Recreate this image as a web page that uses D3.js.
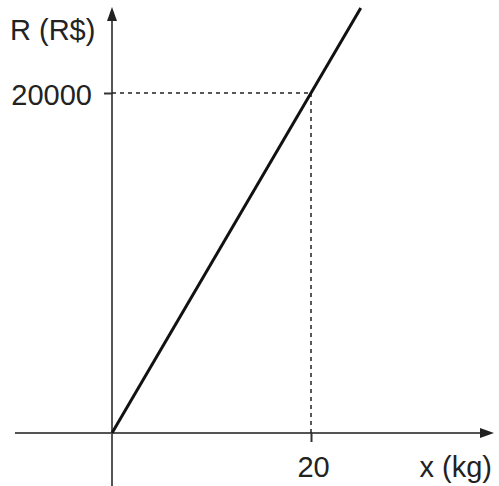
<!DOCTYPE html>
<html><head><meta charset="utf-8">
<script src="https://cdn.jsdelivr.net/npm/d3@7"></script>
<style>
html,body{margin:0;padding:0;background:#fff;}
text{font-family:"Liberation Sans",Arial,Helvetica,sans-serif;fill:#222;}
</style></head>
<body>
<script>
const massKg = [0, 25];
const revenue = [0, 25000];
const xTicks = [20];
const yTicks = [20000];
const xTickLabels = ["20"];
const yTickLabels = ["20000"];
const xTitle = "x (kg)";
const yTitle = "R (R$)";

const W = 499, H = 486;
const svg = d3.select("body").append("svg").attr("width", W).attr("height", H);

const x = d3.scaleLinear().domain([0, 20]).range([112, 311]);
const y = d3.scaleLinear().domain([0, 20000]).range([433, 93]);

const axisColor = "#555";
// axis lines
svg.append("line").attr("x1", 15).attr("x2", 484).attr("y1", y(0)).attr("y2", y(0))
  .attr("stroke", axisColor).attr("stroke-width", 2);
svg.append("line").attr("x1", x(0)).attr("x2", x(0)).attr("y1", 18).attr("y2", H)
  .attr("stroke", axisColor).attr("stroke-width", 2);
// arrowheads
svg.append("path").attr("d", `M494,${y(0)} L480,${y(0)-5} L480,${y(0)+5} Z`).attr("fill", "#222");
svg.append("path").attr("d", `M${x(0)},7 L${x(0)-5},21 L${x(0)+5},21 Z`).attr("fill", "#222");

// ticks via d3 axes
const fs = 29;
const xAxis = d3.axisBottom(x).tickValues(xTicks).tickFormat((d,i)=>xTickLabels[i])
  .tickSize(9).tickSizeOuter(0).tickPadding(14);
const gx = svg.append("g").attr("transform", `translate(0,${y(0)})`).call(xAxis);
gx.select(".domain").remove();
gx.selectAll("line").attr("stroke", "#333").attr("stroke-width", 2);
gx.selectAll("text").attr("font-size", fs).attr("fill", "#222").attr("dx", 2)
  .style("font-family", '"Liberation Sans",Arial,sans-serif');

const yAxis = d3.axisLeft(y).tickValues(yTicks).tickFormat((d,i)=>yTickLabels[i])
  .tickSize(8).tickSizeOuter(0).tickPadding(12);
const gy = svg.append("g").attr("transform", `translate(${x(0)},0)`).call(yAxis);
gy.select(".domain").remove();
gy.selectAll("line").attr("stroke", "#333").attr("stroke-width", 2);
gy.selectAll("text").attr("font-size", fs).attr("fill", "#222").attr("dy", "0.4em")
  .style("font-family", '"Liberation Sans",Arial,sans-serif');

// dashed guide lines
yTicks.forEach((v, i) => {
  const xv = xTicks[i];
  svg.append("line").attr("x1", x(0)).attr("x2", x(xv)).attr("y1", y(v)).attr("y2", y(v))
    .attr("stroke", "#222").attr("stroke-width", 1.5).attr("stroke-dasharray", "4,4");
  svg.append("line").attr("x1", x(xv)).attr("x2", x(xv)).attr("y1", y(v)).attr("y2", y(0))
    .attr("stroke", "#222").attr("stroke-width", 1.5).attr("stroke-dasharray", "4,4");
});

// data line
const pts = massKg.map((m, i) => [m, revenue[i]]);
svg.append("path").datum(pts)
  .attr("d", d3.line().x(d => x(d[0])).y(d => y(d[1])))
  .attr("fill", "none").attr("stroke", "#111").attr("stroke-width", 3);

// titles
svg.append("text").attr("x", 10).attr("y", 40).attr("font-size", fs).text(yTitle);
svg.append("text").attr("x", 492).attr("y", 477).attr("text-anchor", "end").attr("font-size", fs).text(xTitle);
</script>
</body></html>
